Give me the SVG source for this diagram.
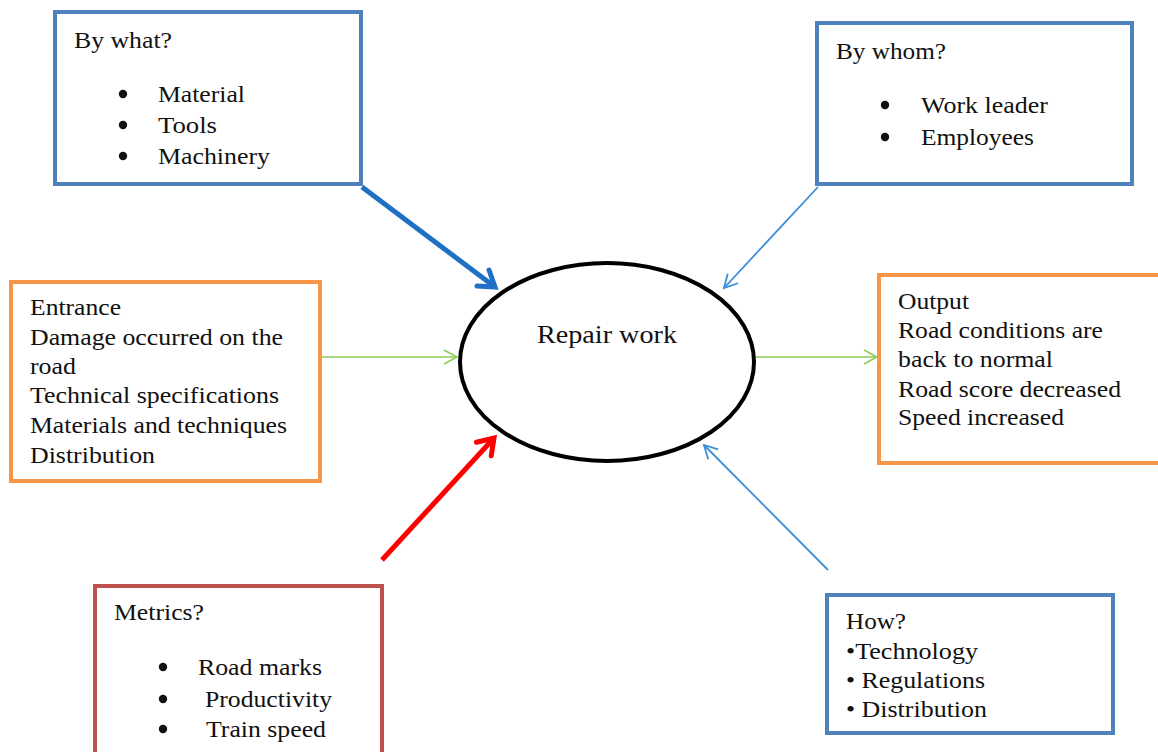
<svg xmlns="http://www.w3.org/2000/svg" width="1158" height="752" viewBox="0 0 1158 752">
<style>
text{font-family:'Liberation Serif','Times New Roman',serif;font-size:24px;fill:#111}
.bx{fill:#fff;stroke-width:4}
.blue{stroke:#4F81BD}
.orange{stroke:#F79646}
.red{stroke:#C0504D}
.dot{fill:#111}
</style>
<defs>
<marker id="mThickBlue" markerUnits="userSpaceOnUse" markerWidth="40" markerHeight="40" refX="0" refY="0" orient="auto" overflow="visible"><path d="M-15,-10 L0,0 L-15,10" fill="none" stroke="#1F6FC5" stroke-width="5" stroke-linecap="round"/></marker>
<marker id="mThinBlue" markerUnits="userSpaceOnUse" markerWidth="40" markerHeight="40" refX="0" refY="0" orient="auto" overflow="visible"><path d="M-13,-7 L0,0 L-13,7" fill="none" stroke="#3C8DD8" stroke-width="1.8"/></marker>
<marker id="mGreen" markerUnits="userSpaceOnUse" markerWidth="40" markerHeight="40" refX="0" refY="0" orient="auto" overflow="visible"><path d="M-13,-7 L0,0 L-13,7" fill="none" stroke="#8DCB55" stroke-width="1.5"/></marker>
<marker id="mRed" markerUnits="userSpaceOnUse" markerWidth="40" markerHeight="40" refX="0" refY="0" orient="auto" overflow="visible"><path d="M-15,-10 L0,0 L-15,10" fill="none" stroke="#FF0000" stroke-width="5" stroke-linecap="round"/></marker>
</defs>
<rect width="1158" height="752" fill="#fff"/>

<g id="connectors" fill="none">
<line x1="362" y1="187" x2="495" y2="287" stroke="#1F6FC5" stroke-width="5" marker-end="url(#mThickBlue)"/>
<line x1="818" y1="187" x2="724" y2="288" stroke="#3C8DD8" stroke-width="1.8" marker-end="url(#mThinBlue)"/>
<line x1="322" y1="357" x2="457" y2="357" stroke="#8DCB55" stroke-width="1.5" marker-end="url(#mGreen)"/>
<line x1="755" y1="357" x2="877" y2="357" stroke="#8DCB55" stroke-width="1.5" marker-end="url(#mGreen)"/>
<line x1="382" y1="560" x2="494" y2="438" stroke="#FF0000" stroke-width="5" marker-end="url(#mRed)"/>
<line x1="828" y1="570" x2="704" y2="445" stroke="#3C8DD8" stroke-width="1.8" marker-end="url(#mThinBlue)"/>
</g>

<g id="center">
<ellipse cx="607" cy="362" rx="147" ry="99" fill="#fff" stroke="#000" stroke-width="4"/>
<text x="537" y="343" textLength="140" lengthAdjust="spacingAndGlyphs" style="font-size:26px">Repair work</text>
</g>

<g id="by-what">
<rect class="bx blue" x="55" y="12" width="306" height="172"/>
<text x="74" y="48" textLength="98" lengthAdjust="spacingAndGlyphs">By what?</text>
<circle class="dot" cx="123" cy="94" r="4.2"/>
<circle class="dot" cx="123" cy="125" r="4.2"/>
<circle class="dot" cx="123" cy="156" r="4.2"/>
<text x="158" y="102" textLength="87" lengthAdjust="spacingAndGlyphs">Material</text>
<text x="158" y="133" textLength="59" lengthAdjust="spacingAndGlyphs">Tools</text>
<text x="158" y="164" textLength="112" lengthAdjust="spacingAndGlyphs">Machinery</text>
</g>

<g id="by-whom">
<rect class="bx blue" x="817" y="23" width="315" height="161"/>
<text x="836" y="59" textLength="110" lengthAdjust="spacingAndGlyphs">By whom?</text>
<circle class="dot" cx="885" cy="105" r="4.2"/>
<circle class="dot" cx="885" cy="137" r="4.2"/>
<text x="921" y="113" textLength="127" lengthAdjust="spacingAndGlyphs">Work leader</text>
<text x="921" y="145" textLength="113" lengthAdjust="spacingAndGlyphs">Employees</text>
</g>

<g id="entrance">
<rect class="bx orange" x="11" y="282" width="309" height="199"/>
<text x="30" y="315" textLength="91" lengthAdjust="spacingAndGlyphs">Entrance</text>
<text x="30" y="345" textLength="253" lengthAdjust="spacingAndGlyphs">Damage occurred on the</text>
<text x="30" y="374" textLength="46" lengthAdjust="spacingAndGlyphs">road</text>
<text x="30" y="403" textLength="249" lengthAdjust="spacingAndGlyphs">Technical specifications</text>
<text x="30" y="433" textLength="257" lengthAdjust="spacingAndGlyphs">Materials and techniques</text>
<text x="30" y="463" textLength="125" lengthAdjust="spacingAndGlyphs">Distribution</text>
</g>

<g id="output">
<rect class="bx orange" x="879" y="275" width="290" height="188"/>
<text x="898" y="309" textLength="71" lengthAdjust="spacingAndGlyphs">Output</text>
<text x="898" y="338" textLength="205" lengthAdjust="spacingAndGlyphs">Road conditions are</text>
<text x="898" y="367" textLength="155" lengthAdjust="spacingAndGlyphs">back to normal</text>
<text x="898" y="397" textLength="223" lengthAdjust="spacingAndGlyphs">Road score decreased</text>
<text x="898" y="425" textLength="166" lengthAdjust="spacingAndGlyphs">Speed increased</text>
</g>

<g id="metrics">
<rect class="bx red" x="95" y="586" width="287" height="180"/>
<text x="114" y="620" textLength="90" lengthAdjust="spacingAndGlyphs">Metrics?</text>
<circle class="dot" cx="163" cy="667" r="4.2"/>
<circle class="dot" cx="163" cy="699" r="4.2"/>
<circle class="dot" cx="163" cy="729" r="4.2"/>
<text x="198" y="675" textLength="124" lengthAdjust="spacingAndGlyphs">Road marks</text>
<text x="205" y="707" textLength="127" lengthAdjust="spacingAndGlyphs">Productivity</text>
<text x="206" y="737" textLength="120" lengthAdjust="spacingAndGlyphs">Train speed</text>
</g>

<g id="how">
<rect class="bx blue" x="827" y="595" width="286" height="138"/>
<text x="846" y="629" textLength="60" lengthAdjust="spacingAndGlyphs">How?</text>
<text x="846" y="659" textLength="132" lengthAdjust="spacingAndGlyphs">•Technology</text>
<text x="846" y="688" textLength="139" lengthAdjust="spacingAndGlyphs">• Regulations</text>
<text x="846" y="717" textLength="141" lengthAdjust="spacingAndGlyphs">• Distribution</text>
</g>
</svg>
